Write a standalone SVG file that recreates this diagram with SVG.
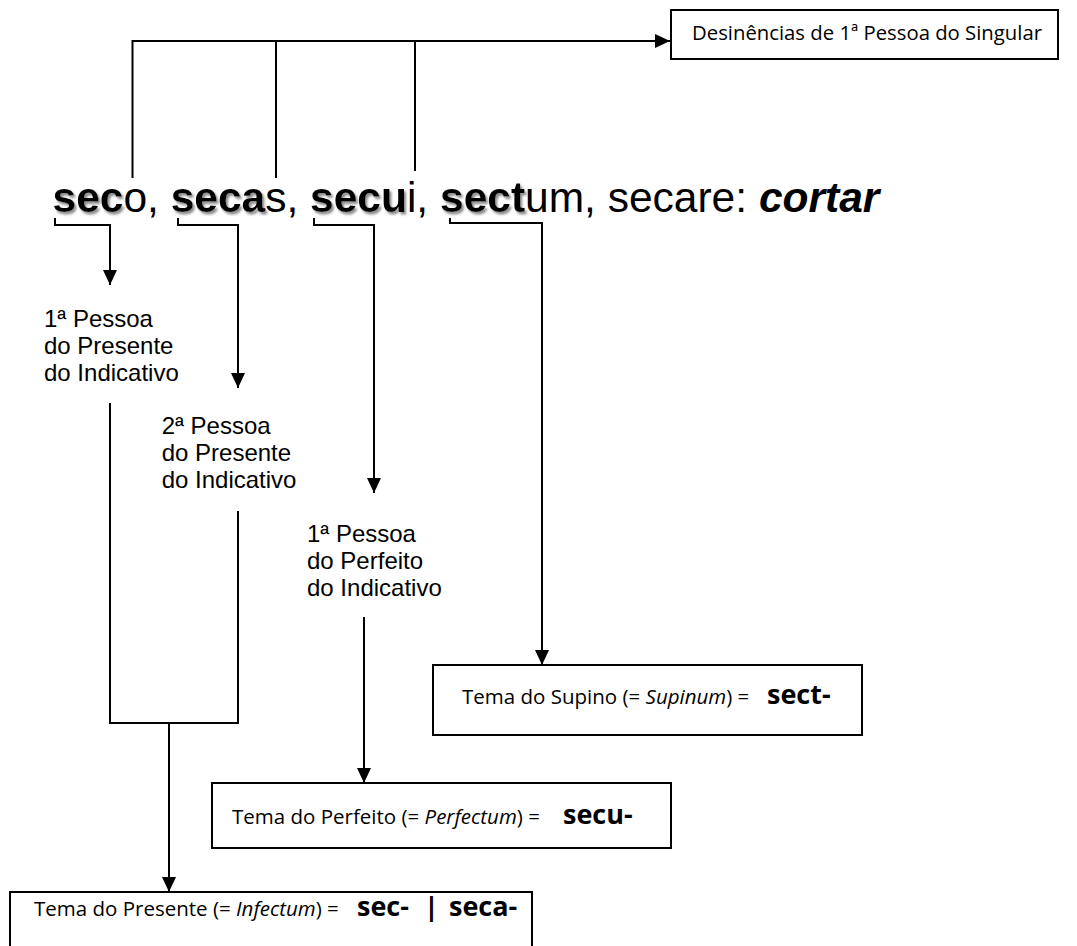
<svg xmlns="http://www.w3.org/2000/svg" width="1077" height="946" viewBox="0 0 1077 946">
<style>
.ln{fill:none;stroke:#000;stroke-width:2}
.box{fill:#fff;stroke:#000;stroke-width:2}
.main{font-family:"Liberation Sans",Arial,sans-serif;font-size:42.5px;fill:#000}
.b{font-weight:bold}
.lbl{font-family:"Liberation Sans",Arial,sans-serif;font-size:24px;fill:#000}
.bt{font-family:"Open Sans","Noto Sans",sans-serif;font-size:20.5px;fill:#000}
.it{font-style:italic}
.st{font-family:"Open Sans","Noto Sans",sans-serif;font-size:27px;font-weight:bold;fill:#000}
</style>
<defs>
<marker id="ah" markerUnits="userSpaceOnUse" markerWidth="15" markerHeight="14" refX="15" refY="7" orient="auto">
<path d="M0,0 L15,7 L0,14 z" fill="#000"/>
</marker>
<filter id="sh" x="-10%" y="-20%" width="130%" height="150%">
<feDropShadow dx="2" dy="2.5" stdDeviation="1.2" flood-color="#8a8a8a" flood-opacity="1"/>
</filter>
</defs>

<g id="connectors">
<path class="ln" d="M132.5,178 V41 H670" marker-end="url(#ah)"/>
<path class="ln" d="M276,41 V178"/>
<path class="ln" d="M415,41 V171"/>
<path class="ln" d="M55,218 V225 H110 V285" marker-end="url(#ah)"/>
<path class="ln" d="M178,218 V225 H238 V388" marker-end="url(#ah)"/>
<path class="ln" d="M314,218 V225 H374 V493" marker-end="url(#ah)"/>
<path class="ln" d="M450,218 V223 H542 V665" marker-end="url(#ah)"/>
<path class="ln" d="M110,403 V723 H238 V511"/>
<path class="ln" d="M169,723 V892" marker-end="url(#ah)"/>
<path class="ln" d="M364,617 V783" marker-end="url(#ah)"/>
</g>

<g id="verb">
<text class="main b" x="52.5" y="212" filter="url(#sh)">sec</text>
<text class="main" x="123.4" y="212">o, </text>
<text class="main b" x="170.7" y="212" filter="url(#sh)">seca</text>
<text class="main" x="265.2" y="212">s, </text>
<text class="main b" x="310.1" y="212" filter="url(#sh)">secu</text>
<text class="main" x="406.9" y="212">i, </text>
<text class="main b" x="440" y="212" filter="url(#sh)">sect</text>
<text class="main" x="525" y="212">um, secare: </text>
<text class="main b" x="758.9" y="212" font-style="italic">cortar</text>
</g>

<g id="desinencias">
<rect class="box" x="671" y="10" width="387" height="49"/>
<text class="bt" x="692" y="40" textLength="350" lengthAdjust="spacingAndGlyphs">Desinências de 1ª Pessoa do Singular</text>
</g>

<g id="label-1pres">
<text class="lbl" x="44" y="327">1ª Pessoa</text>
<text class="lbl" x="44" y="354">do Presente</text>
<text class="lbl" x="44" y="381">do Indicativo</text>
</g>

<g id="label-2pres">
<text class="lbl" x="161.7" y="434">2ª Pessoa</text>
<text class="lbl" x="161.7" y="461">do Presente</text>
<text class="lbl" x="161.7" y="488">do Indicativo</text>
</g>

<g id="label-1perf">
<text class="lbl" x="307" y="542">1ª Pessoa</text>
<text class="lbl" x="307" y="569">do Perfeito</text>
<text class="lbl" x="307" y="596">do Indicativo</text>
</g>

<g id="supino">
<rect class="box" x="433" y="665" width="429" height="70"/>
<text class="bt" x="462" y="704">Tema do Supino (= <tspan class="it">Supinum</tspan>) =  <tspan class="st" x="767">sect-</tspan></text>
</g>

<g id="perfeito">
<rect class="box" x="212" y="783" width="459" height="65"/>
<text class="bt" x="232" y="824">Tema do Perfeito (= <tspan class="it">Perfectum</tspan>) = <tspan class="st" x="563">secu-</tspan></text>
</g>

<g id="presente">
<rect class="box" x="10" y="892" width="522" height="60"/>
<text class="bt" x="34" y="916">Tema do Presente (= <tspan class="it">Infectum</tspan>) = <tspan class="st" x="357">sec- </tspan><tspan class="st" x="424">| </tspan><tspan class="st" x="449">seca-</tspan></text>
</g>
</svg>
